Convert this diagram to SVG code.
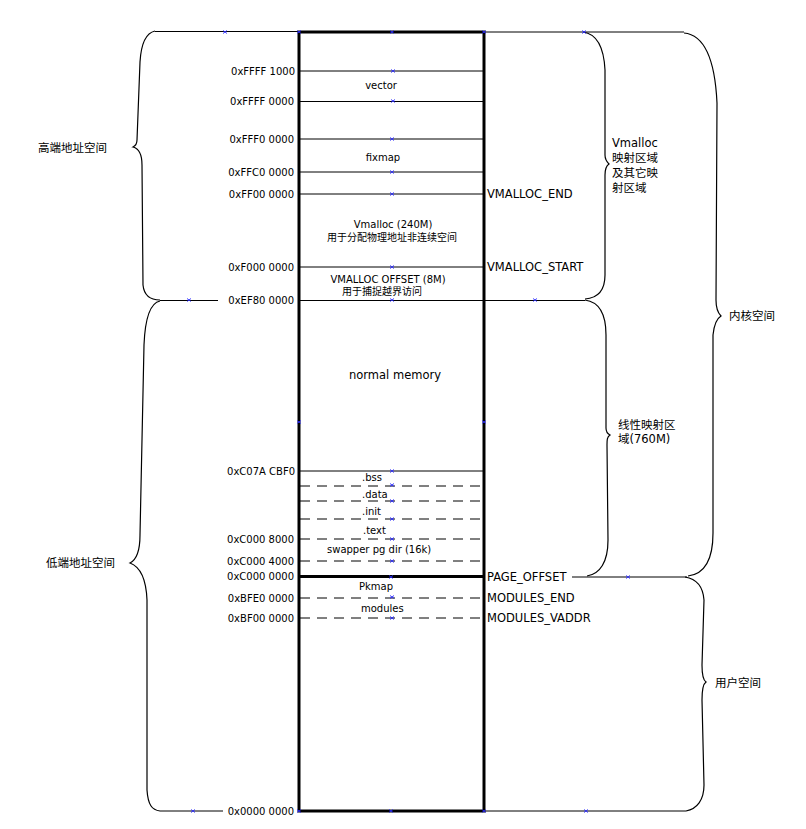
<svg xmlns="http://www.w3.org/2000/svg" xmlns:xlink="http://www.w3.org/1999/xlink" width="806" height="829" viewBox="0 0 806 829">
<style>
.bg{fill:#fff}
.thin{stroke:#000;stroke-width:1;fill:none}
.thick{stroke:#000;stroke-width:3;fill:none}
.dash{stroke:#000;stroke-width:1;fill:none;stroke-dasharray:10,7}
.brace{stroke:#000;stroke-width:1.2;fill:none}
.mk{stroke:#2a2aff;stroke-width:0.9;fill:none}
text{font-family:"DejaVu Sans","Noto Sans CJK SC",sans-serif;fill:#000}
.addr{font-size:10px;text-anchor:end}
.sm{font-size:10px}
.c{text-anchor:middle}
.lb{font-size:11.5px}
</style>
<defs>
<path id="x" d="M-2,-1.5 L2,1.5 M-2,1.5 L2,-1.5" class="mk"/>
</defs>
<rect class="bg" x="0" y="0" width="806" height="829"/>

<g id="connectors">
  <line class="thin" x1="155" y1="31.5" x2="299" y2="31.5"/>
  <line class="thin" x1="484" y1="32" x2="684" y2="32"/>
  <line class="thin" x1="160" y1="300.5" x2="218" y2="300.5"/>
  <line class="thin" x1="484" y1="300.5" x2="585" y2="300.5"/>
  <line class="thin" x1="572" y1="577" x2="687" y2="577"/>
  <line class="thin" x1="160" y1="811" x2="223" y2="811"/>
  <line class="thin" x1="484" y1="811" x2="686" y2="811"/>
  <path id="brace-high" class="brace" d="M155,31 C146,33 141,45 140,62 L137,140 C137,144 135,146 133,147 C137,148 142,152 142,165 L143,285 C144,295 150,300 160,300"/>
  <path id="brace-low" class="brace" d="M160,301 C150,303 145,320 144,345 L140,535 C140,552 136,560 130,563 C138,566 146,575 147,600 L147,790 C148,805 152,810 160,811"/>
  <path id="brace-vmalloc" class="brace" d="M583,32 C598,34 604,50 605,70 L605,155 C605,160 607,162 609,164 C606,166 605,170 605,175 L605,275 C605,290 598,298 585,299"/>
  <path id="brace-kernel" class="brace" d="M684,33 C705,35 715,60 717,103 L716,300 C716,308 718,313 721,316 C716,319 714,325 713,335 L713,533 C713,560 705,574 688,576"/>
  <path id="brace-linear" class="brace" d="M585,300 C600,302 606,315 606,335 L606,428 C606,432 608,434 610,435 C607,437 607,440 607,445 L608,540 C608,562 600,574 587,576"/>
  <path id="brace-user" class="brace" d="M685,577 C697,579 703,586 704,600 L702,665 C702,675 703,680 706,682 C703,684 702,690 702,700 L704,785 C704,800 697,809 686,811"/>
</g>

<g id="memory-map">
  <line class="thin" x1="300" y1="71" x2="484" y2="71"/>
  <line class="thin" x1="300" y1="101.5" x2="484" y2="101.5"/>
  <line class="thin" x1="300" y1="139" x2="484" y2="139"/>
  <line class="thin" x1="300" y1="172" x2="484" y2="172"/>
  <line class="thin" x1="300" y1="194" x2="484" y2="194"/>
  <line class="thin" x1="300" y1="267" x2="484" y2="267"/>
  <line class="thin" x1="300" y1="300.5" x2="484" y2="300.5"/>
  <line class="thin" x1="300" y1="471" x2="484" y2="471"/>
  <line class="dash" x1="300" y1="486" x2="484" y2="486"/>
  <line class="dash" x1="300" y1="501" x2="484" y2="501"/>
  <line class="dash" x1="300" y1="519" x2="484" y2="519"/>
  <line class="dash" x1="300" y1="539" x2="484" y2="539"/>
  <line class="dash" x1="300" y1="561" x2="484" y2="561"/>
  <line class="thick" x1="299" y1="576.5" x2="484" y2="576.5"/>
  <line class="dash" x1="300" y1="598" x2="484" y2="598"/>
  <line class="dash" x1="300" y1="618" x2="484" y2="618"/>
  <rect class="thick" x="299" y="32" width="185" height="779"/>
</g>

<g id="markers">
  <use xlink:href="#x" x="225" y="32"/>
  <use xlink:href="#x" x="299" y="32"/>
  <use xlink:href="#x" x="392" y="32"/>
  <use xlink:href="#x" x="484" y="32"/>
  <use xlink:href="#x" x="584" y="32"/>
  <use xlink:href="#x" x="393" y="71"/>
  <use xlink:href="#x" x="393" y="101"/>
  <use xlink:href="#x" x="392" y="139"/>
  <use xlink:href="#x" x="392" y="172"/>
  <use xlink:href="#x" x="392" y="194"/>
  <use xlink:href="#x" x="392" y="267"/>
  <use xlink:href="#x" x="392" y="300"/>
  <use xlink:href="#x" x="189" y="300"/>
  <use xlink:href="#x" x="535" y="300"/>
  <use xlink:href="#x" x="299" y="422"/>
  <use xlink:href="#x" x="484" y="422"/>
  <use xlink:href="#x" x="392" y="471"/>
  <use xlink:href="#x" x="392" y="485"/>
  <use xlink:href="#x" x="392" y="501"/>
  <use xlink:href="#x" x="392" y="519"/>
  <use xlink:href="#x" x="392" y="539"/>
  <use xlink:href="#x" x="392" y="561"/>
  <use xlink:href="#x" x="391" y="577"/>
  <use xlink:href="#x" x="628" y="577"/>
  <use xlink:href="#x" x="392" y="597"/>
  <use xlink:href="#x" x="392" y="618"/>
  <use xlink:href="#x" x="193" y="811"/>
  <use xlink:href="#x" x="299" y="811"/>
  <use xlink:href="#x" x="391" y="811"/>
  <use xlink:href="#x" x="484" y="811"/>
  <use xlink:href="#x" x="586" y="811"/>
</g>

<g id="addresses">
  <text class="addr" x="295" y="75">0xFFFF 1000</text>
  <text class="addr" x="294" y="105">0xFFFF 0000</text>
  <text class="addr" x="294" y="143">0xFFF0 0000</text>
  <text class="addr" x="294" y="176">0xFFC0 0000</text>
  <text class="addr" x="294" y="198">0xFF00 0000</text>
  <text class="addr" x="294" y="271">0xF000 0000</text>
  <text class="addr" x="294" y="304">0xEF80 0000</text>
  <text class="addr" x="295" y="475">0xC07A CBF0</text>
  <text class="addr" x="294" y="543">0xC000 8000</text>
  <text class="addr" x="294" y="565">0xC000 4000</text>
  <text class="addr" x="294" y="580">0xC000 0000</text>
  <text class="addr" x="294" y="602">0xBFE0 0000</text>
  <text class="addr" x="294" y="622">0xBF00 0000</text>
  <text class="addr" x="294" y="815">0x0000 0000</text>
</g>

<g id="regions">
  <text class="sm c" x="381" y="89">vector</text>
  <text class="sm c" x="383" y="161">fixmap</text>
  <text class="sm c" x="393" y="228">Vmalloc (240M)</text>
  <text class="sm c" x="392" y="241">用于分配物理地址非连续空间</text>
  <text class="sm c" x="388" y="283">VMALLOC OFFSET (8M)</text>
  <text class="sm c" x="382" y="295">用于捕捉越界访问</text>
  <text class="lb c" x="395" y="379">normal memory</text>
  <text class="sm" x="362" y="481">.bss</text>
  <text class="sm" x="362" y="498">.data</text>
  <text class="sm" x="362" y="515">.init</text>
  <text class="sm" x="363" y="534">.text</text>
  <text class="sm" x="327" y="553">swapper pg dir (16k)</text>
  <text class="sm" x="359" y="590">Pkmap</text>
  <text class="sm" x="361" y="612">modules</text>
</g>

<g id="symbols">
  <text class="lb" x="487" y="198">VMALLOC_END</text>
  <text class="lb" x="487" y="271">VMALLOC_START</text>
  <text class="lb" x="487" y="581">PAGE_OFFSET</text>
  <text class="lb" x="487" y="602">MODULES_END</text>
  <text class="lb" x="487" y="622">MODULES_VADDR</text>
</g>

<g id="label-high"><text class="lb" x="38" y="152">高端地址空间</text></g>
<g id="label-low"><text class="lb" x="46" y="567">低端地址空间</text></g>
<g id="label-vmalloc">
  <text class="lb" x="612" y="147">Vmalloc</text>
  <text class="lb" x="612" y="162">映射区域</text>
  <text class="lb" x="612" y="177">及其它映</text>
  <text class="lb" x="612" y="192">射区域</text>
</g>
<g id="label-kernel"><text class="lb" x="729" y="320">内核空间</text></g>
<g id="label-linear">
  <text class="lb" x="618" y="429">线性映射区</text>
  <text class="lb" x="618" y="443">域(760M)</text>
</g>
<g id="label-user"><text class="lb" x="715" y="687">用户空间</text></g>
</svg>
